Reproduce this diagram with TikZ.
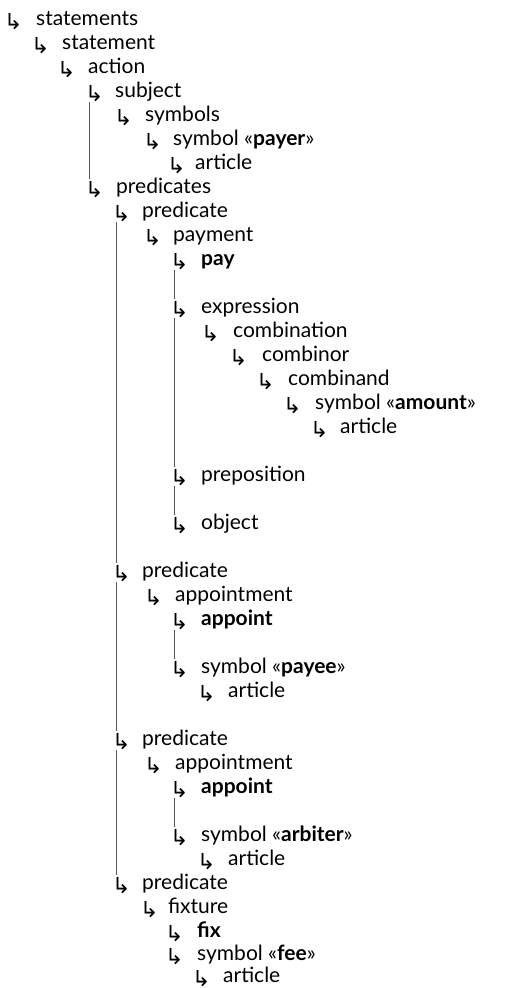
\documentclass[tikz,border=0pt]{standalone}
\usepackage{fontspec}
\setmainfont{Lato}
\newfontfamily\hookfont{DejaVu Sans}
\usetikzlibrary{positioning}
\tikzset{
	hook/.style={font=\fontsize{22}{26}\selectfont\hookfont, anchor=base west, inner sep=0pt, text height=15pt, text depth=0pt}
}
\tikzset{
	leaf/.style={font=\fontsize{21}{24}\selectfont, anchor=base west, inner sep=0pt}
}
\tikzset{
	stem/.style={line width=0.8pt, black!65, shorten <=5pt, shorten >=-1pt}
}
\newcommand{\sym}[1]{symbol «\textbf{#1}»}
\newcommand{\hk}{\raisebox{-4pt}{↳}}

\begin{document}
\begin{tikzpicture}[x=1pt, y=-1pt]
  \useasboundingbox (0,0) rectangle (508,988);
  % hooks, one per row
  \node[hook] (hstmts) at (4,25) {\hk};
  \node[hook] (hstmt) at (31,49) {\hk};
  \node[hook] (haction) at (57,73) {\hk};
  \node[hook] (hsubject) at (85,97) {\hk};
  \node[hook] (hsymbols) at (114,121) {\hk};
  \node[hook] (hpayer) at (143,145) {\hk};
  \node[hook] (hart1) at (167,169) {\hk};
  \node[hook] (hpreds) at (85,193) {\hk};
  \node[hook] (hpred1) at (112,217) {\hk};
  \node[hook] (hpayment) at (143,241) {\hk};
  \node[hook] (hpay) at (170,265) {\hk};
  \node[hook] (hexpr) at (170,313) {\hk};
  \node[hook] (hcomb) at (201,337) {\hk};
  \node[hook] (hcombinor) at (229,361) {\hk};
  \node[hook] (hcombinand) at (256,385) {\hk};
  \node[hook] (hamount) at (283,409) {\hk};
  \node[hook] (hart2) at (310,433) {\hk};
  \node[hook] (hprep) at (170,481) {\hk};
  \node[hook] (hobject) at (170,529) {\hk};
  \node[hook] (hpred2) at (112,577) {\hk};
  \node[hook] (happt1) at (144,601) {\hk};
  \node[hook] (happoint1) at (170,625) {\hk};
  \node[hook] (hpayee) at (170,673) {\hk};
  \node[hook] (hart3) at (197,697) {\hk};
  \node[hook] (hpred3) at (112,745) {\hk};
  \node[hook] (happt2) at (144,769) {\hk};
  \node[hook] (happoint2) at (170,793) {\hk};
  \node[hook] (harbiter) at (170,841) {\hk};
  \node[hook] (hart4) at (197,865) {\hk};
  \node[hook] (hpred4) at (112,889) {\hk};
  \node[hook] (hfixture) at (140,913) {\hk};
  \node[hook] (hfix) at (165,937) {\hk};
  \node[hook] (hfee) at (165,960) {\hk};
  \node[hook] (hart5) at (192,982) {\hk};
  % labels
  \node[leaf] (stmts) at (36,25) {statements};
  \node[leaf] (stmt) at (62,49) {statement};
  \node[leaf] (action) at (88,73) {action};
  \node[leaf] (subject) at (115,97) {subject};
  \node[leaf] (symbols) at (145,121) {symbols};
  \node[leaf] (payer) at (173,145) {\sym{payer}};
  \node[leaf] (art1) at (195,169) {article};
  \node[leaf] (preds) at (116,193) {predicates};
  \node[leaf] (pred1) at (142,217) {predicate};
  \node[leaf] (payment) at (173,241) {payment};
  \node[leaf] (pay) at (201,265) {\textbf{pay}};
  \node[leaf] (expr) at (201,313) {expression};
  \node[leaf] (comb) at (233,337) {combination};
  \node[leaf] (combinor) at (262,361) {combinor};
  \node[leaf] (combinand) at (288,385) {combinand};
  \node[leaf] (amount) at (315,409) {\sym{amount}};
  \node[leaf] (art2) at (340,433) {article};
  \node[leaf] (prep) at (201,481) {preposition};
  \node[leaf] (object) at (201,529) {object};
  \node[leaf] (pred2) at (142,577) {predicate};
  \node[leaf] (appt1) at (175,601) {appointment};
  \node[leaf] (appoint1) at (201,625) {\textbf{appoint}};
  \node[leaf] (payee) at (201,673) {\sym{payee}};
  \node[leaf] (art3) at (228,697) {article};
  \node[leaf] (pred3) at (142,745) {predicate};
  \node[leaf] (appt2) at (175,769) {appointment};
  \node[leaf] (appoint2) at (201,793) {\textbf{appoint}};
  \node[leaf] (arbiter) at (201,841) {\sym{arbiter}};
  \node[leaf] (art4) at (228,865) {article};
  \node[leaf] (pred4) at (142,889) {predicate};
  \node[leaf] (fixture) at (168,913) {fixture};
  \node[leaf] (fix) at (197,937) {\textbf{fix}};
  \node[leaf] (fee) at (197,960) {\sym{fee}};
  \node[leaf] (art5) at (223,982) {article};
  % stems between siblings
  \draw[stem] ([xshift=4.5pt]hsubject.south west) -- ([xshift=4.5pt]hpreds.north west);
  \draw[stem] ([xshift=4.5pt]hpred1.south west) -- ([xshift=4.5pt]hpred2.north west);
  \draw[stem] ([xshift=4.5pt]hpred2.south west) -- ([xshift=4.5pt]hpred3.north west);
  \draw[stem] ([xshift=4.5pt]hpred3.south west) -- ([xshift=4.5pt]hpred4.north west);
  \draw[stem] ([xshift=4.5pt]hpay.south west) -- ([xshift=4.5pt]hexpr.north west);
  \draw[stem] ([xshift=4.5pt]hexpr.south west) -- ([xshift=4.5pt]hprep.north west);
  \draw[stem] ([xshift=4.5pt]hprep.south west) -- ([xshift=4.5pt]hobject.north west);
  \draw[stem] ([xshift=4.5pt]happoint1.south west) -- ([xshift=4.5pt]hpayee.north west);
  \draw[stem] ([xshift=4.5pt]happoint2.south west) -- ([xshift=4.5pt]harbiter.north west);
\end{tikzpicture}
\end{document}
